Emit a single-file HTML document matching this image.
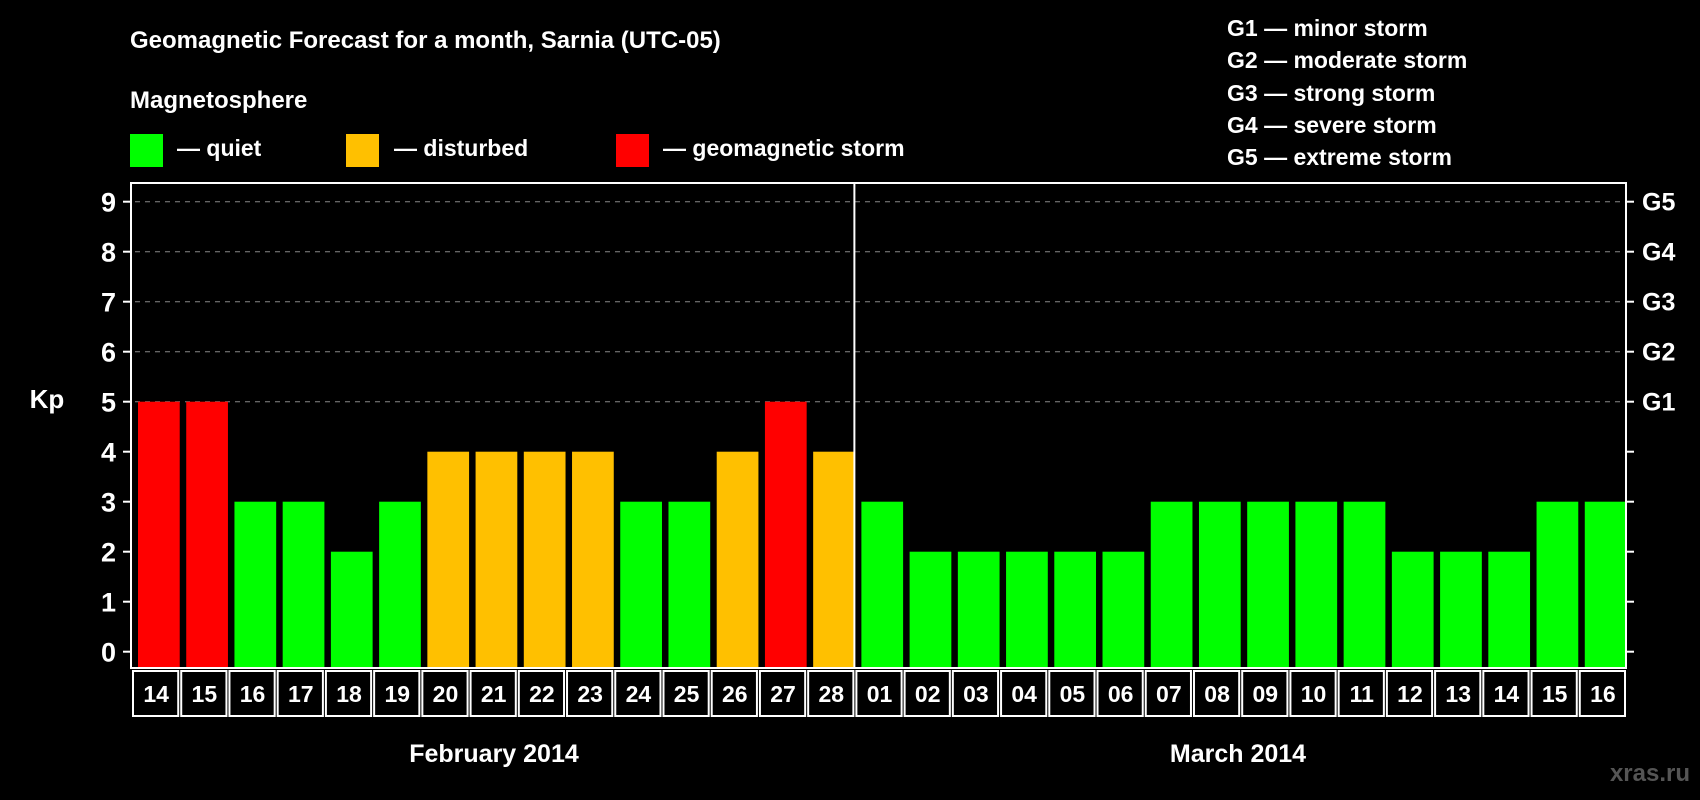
<!DOCTYPE html>
<html><head><meta charset="utf-8"><style>
html,body{margin:0;padding:0;background:#000;}
svg{display:block;font-family:"Liberation Sans",Arial,sans-serif;font-weight:bold;}
</style></head><body>
<svg id="chart" width="1700" height="800" viewBox="0 0 1700 800">
<rect x="0" y="0" width="1700" height="800" fill="#000"/>
<text x="130" y="48" fill="#fff" font-size="24">Geomagnetic Forecast for a month, Sarnia (UTC-05)</text>
<text x="130" y="108" fill="#fff" font-size="24">Magnetosphere</text>
<g>
<rect x="130" y="134" width="33" height="33" fill="#00ff00"/>
<text x="177" y="156" fill="#fff" font-size="23">— quiet</text>
<rect x="346" y="134" width="33" height="33" fill="#ffc000"/>
<text x="394" y="156" fill="#fff" font-size="23">— disturbed</text>
<rect x="616" y="134" width="33" height="33" fill="#ff0000"/>
<text x="663" y="156" fill="#fff" font-size="23">— geomagnetic storm</text>
</g>
<g fill="#fff" font-size="23">
<text x="1227" y="36">G1 — minor storm</text>
<text x="1227" y="68">G2 — moderate storm</text>
<text x="1227" y="101">G3 — strong storm</text>
<text x="1227" y="133">G4 — severe storm</text>
<text x="1227" y="165">G5 — extreme storm</text>
</g>
<g id="plot"></g>
<text x="47" y="408" fill="#fff" font-size="26" text-anchor="middle">Kp</text>
<text x="494" y="762" fill="#fff" font-size="25" text-anchor="middle">February 2014</text>
<text x="1238" y="762" fill="#fff" font-size="25" text-anchor="middle">March 2014</text>
<text x="1690" y="781" fill="#555" font-size="24" text-anchor="end">xras.ru</text>
</svg>
<script>
const days = ["14","15","16","17","18","19","20","21","22","23","24","25","26","27","28","01","02","03","04","05","06","07","08","09","10","11","12","13","14","15","16"];
const kpValues = [5,5,3,3,2,3,4,4,4,4,3,3,4,5,4,3,2,2,2,2,2,3,3,3,3,3,2,2,2,3,3];
const yTicks = [0,1,2,3,4,5,6,7,8,9];
const gLabels = ["G1","G2","G3","G4","G5"];
const gLevels = [5,6,7,8,9];
const NS="http://www.w3.org/2000/svg";
const L=131,R=1626,T=183,B=668;
const y0=651.7,unit=50;
function y(v){return y0-v*unit;}
const slot=(R-L)/days.length;
function x(i){return L+i*slot;}
function color(v){return v>=5?"#ff0000":(v>=4?"#ffc000":"#00ff00");}
const g=document.getElementById("plot");
function mk(t,a){const e=document.createElementNS(NS,t);for(const k in a)e.setAttribute(k,a[k]);g.appendChild(e);return e;}
gLevels.forEach((lv,i)=>{
 const e=mk("line",{x1:L+4,x2:R-4,y1:y(lv),y2:y(lv),stroke:"#888","stroke-width":1,"stroke-dasharray":"5,5"});
 
 
 const t=mk("text",{x:1642,y:y(lv)+9,fill:"#fff","font-size":25});
 t.textContent=gLabels[i];
 
 
});
yTicks.forEach(v=>{
 const a=mk("line",{x1:L-8,x2:L,y1:y(v),y2:y(v),stroke:"#fff","stroke-width":2});
 
 
 const b=mk("line",{x1:R,x2:R+8,y1:y(v),y2:y(v),stroke:"#fff","stroke-width":2});
 
 
 const t=mk("text",{x:116,y:y(v)+10,fill:"#fff","font-size":27,"text-anchor":"end"});
 t.textContent=v;
 
 
});
kpValues.forEach((v,i)=>{
 const r=mk("rect",{x:x(i)+7,y:y(v),width:slot-6.5,height:B-y(v),fill:color(v)});
 
 
 const c=mk("rect",{x:x(i)+2,y:671,width:slot-3,height:45,fill:"none",stroke:"#fff","stroke-width":2});
 
 
 const t=mk("text",{x:x(i)+slot/2+1,y:702,fill:"#fff","font-size":23,"text-anchor":"middle"});
 t.textContent=days[i];
 
 
});
const sep=mk("line",{x1:x(15),x2:x(15),y1:T,y2:B,stroke:"#fff","stroke-width":2});


const fr=mk("rect",{x:L,y:T,width:R-L,height:B-T,fill:"none",stroke:"#fff","stroke-width":2});


</script>
</body></html>
